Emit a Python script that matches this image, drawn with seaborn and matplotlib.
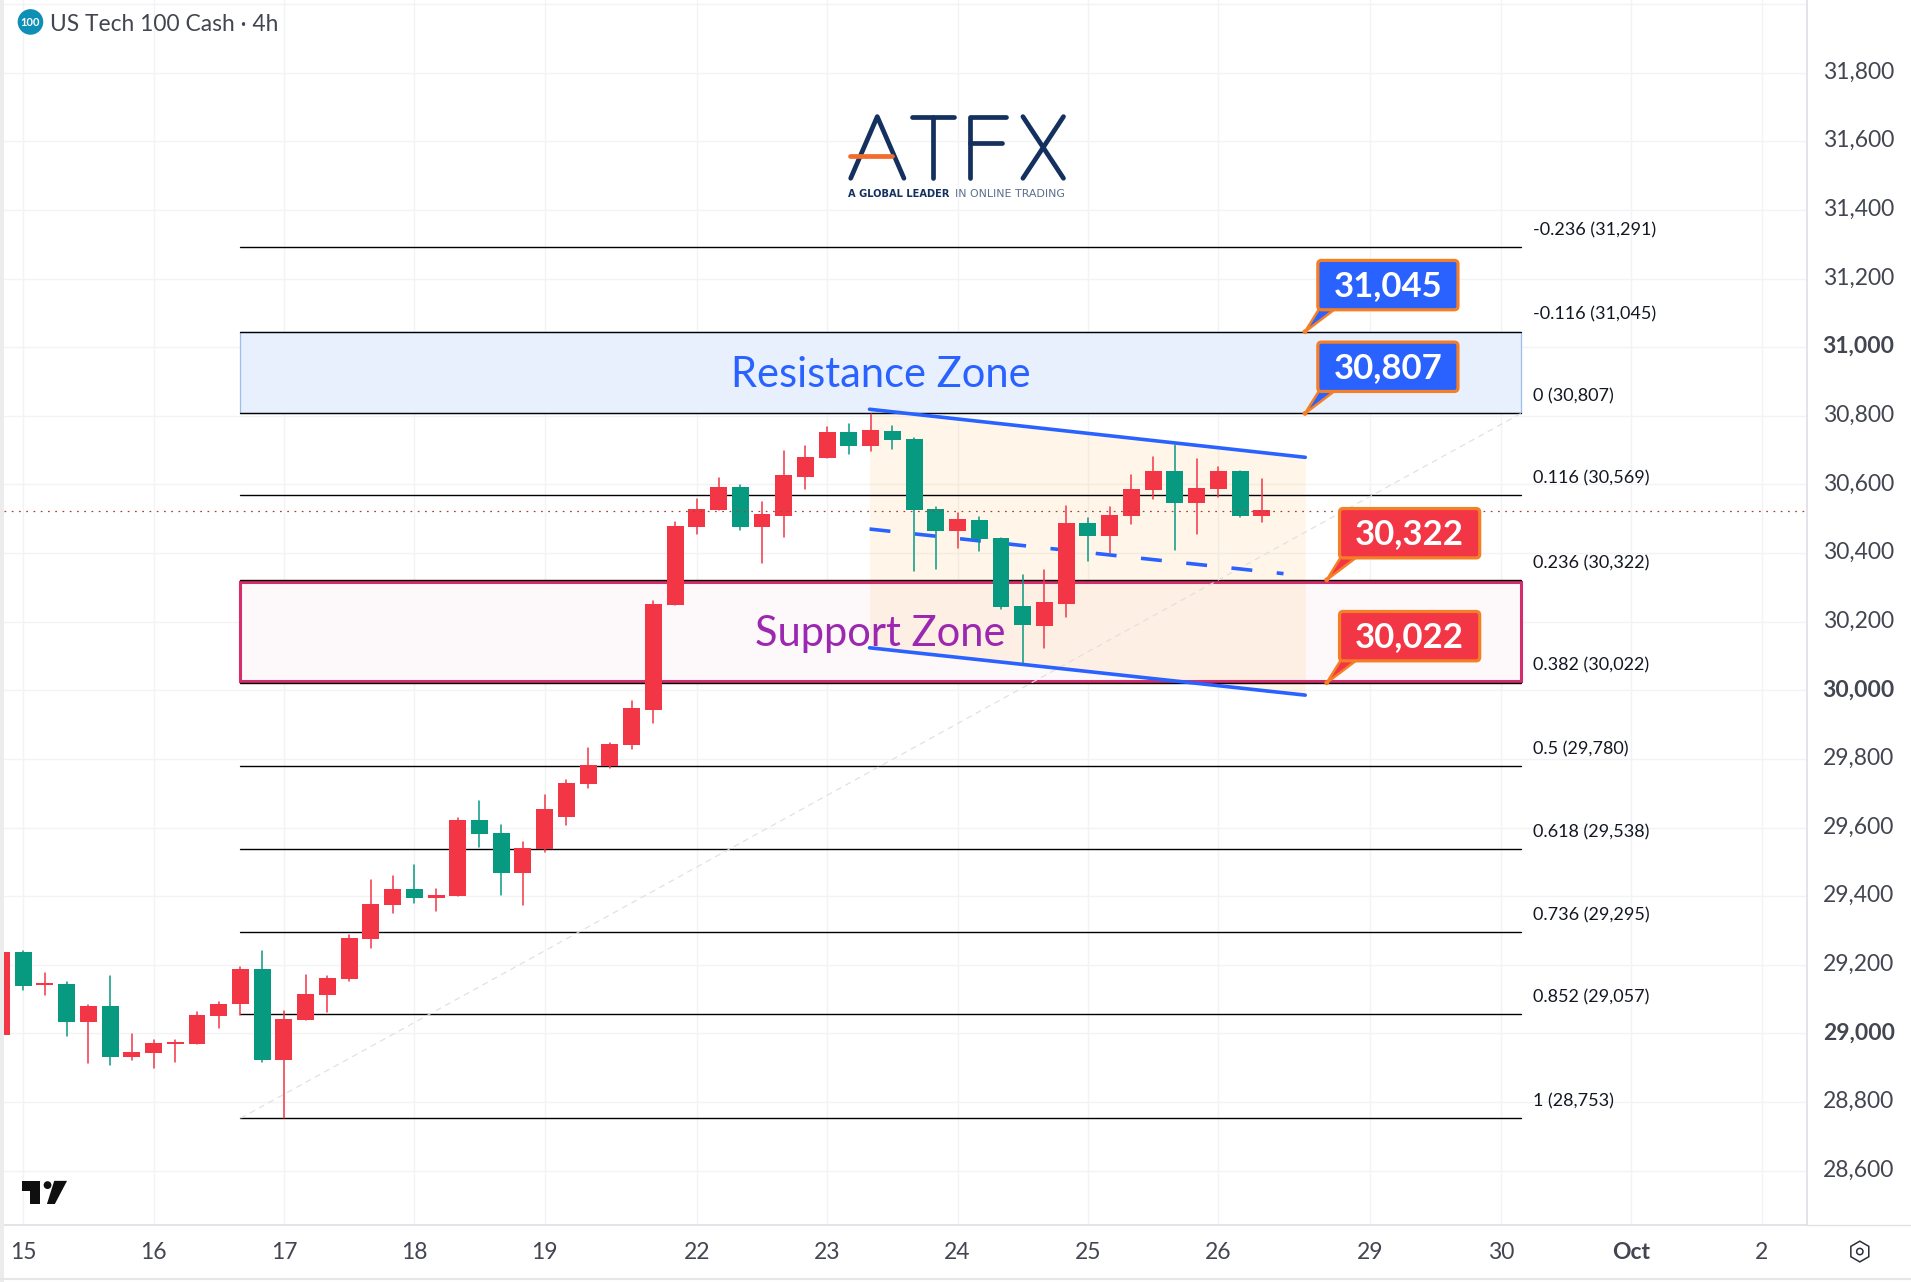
import matplotlib
matplotlib.use("Agg")
import matplotlib.pyplot as plt
from matplotlib.patches import Circle, FancyBboxPatch, Polygon, Rectangle, RegularPolygon
from matplotlib.transforms import ScaledTranslation
import pandas as pd
import seaborn as sns

# 4h candles, first one is the clipped candle at the left edge
bar_index = list(range(-1, 58))
bar_open = [28997, 29238, 29141, 29145, 29034, 29081, 28932, 28944, 28970, 28970,
            29052, 29086, 29188, 28923, 29040, 29113, 29159, 29276, 29375, 29422,
            29395, 29401, 29622, 29585, 29468, 29538, 29631, 29727, 29780, 29841,
            29943, 30249, 30477, 30526, 30593, 30476, 30508, 30622, 30677, 30753,
            30712, 30756, 30732, 30528, 30464, 30496, 30444, 30246, 30188, 30252,
            30488, 30450, 30508, 30584, 30639, 30546, 30587, 30639, 30508]
bar_high = [29238, 29241, 29177, 29151, 29084, 29168, 28999, 28981, 28981, 29062,
            29091, 29194, 29241, 29066, 29171, 29168, 29287, 29448, 29459, 29491,
            29422, 29628, 29678, 29608, 29558, 29695, 29739, 29832, 29847, 29969,
            30261, 30491, 30558, 30619, 30598, 30549, 30697, 30712, 30767, 30776,
            30804, 30770, 30735, 30534, 30517, 30505, 30444, 30336, 30351, 30537,
            30502, 30534, 30628, 30680, 30715, 30674, 30651, 30639, 30616]
bar_low = [28997, 29127, 29113, 28993, 28915, 28909, 28923, 28900, 28917, 28970,
           29017, 29054, 28918, 28753, 29040, 29063, 29154, 29250, 29352, 29381,
           29357, 29401, 29544, 29404, 29373, 29529, 29608, 29716, 29774, 29829,
           29905, 30249, 30456, 30526, 30468, 30371, 30447, 30587, 30677, 30689,
           30697, 30703, 30348, 30354, 30415, 30406, 30237, 30079, 30124, 30214,
           30377, 30400, 30485, 30558, 30409, 30456, 30564, 30505, 30491]
bar_close = [29238, 29139, 29147, 29034, 29081, 28932, 28947, 28973, 28976, 29054,
             29086, 29188, 28923, 29043, 29116, 29162, 29279, 29378, 29422, 29395,
             29404, 29622, 29582, 29468, 29541, 29655, 29730, 29783, 29844, 29949,
             30252, 30479, 30528, 30593, 30476, 30514, 30628, 30680, 30753, 30712,
             30759, 30730, 30526, 30464, 30499, 30441, 30243, 30190, 30258, 30488,
             30450, 30511, 30587, 30639, 30546, 30590, 30639, 30508, 30526]
last_price = 30524

fib_ratio = ["-0.236", "-0.116", "0", "0.116", "0.236", "0.382", "0.5", "0.618", "0.736", "0.852", "1"]
fib_price = [31291, 31045, 30807, 30569, 30322, 30022, 29780, 29538, 29295, 29057, 28753]
fib_start, fib_end = 10, 68.93

channel_x = [38.95, 59.0]
channel_top = [30819, 30679]
channel_bottom = [30124, 29986]
channel_mid_x = [38.95, 58.0]
channel_mid = [30470, 30340]

callout_price = [31045, 30807, 30322, 30022]
callout_x = [58.99, 58.99, 59.99, 59.99]
callout_color = ["#2962ff", "#2962ff", "#f23645", "#f23645"]

price_ticks = list(range(28600, 32001, 200))
price_labels = [f"{p:,}" for p in price_ticks[:-1]] + [""]
bold_prices = ["29,000", "30,000", "31,000"]
day_ticks = [0, 6, 12, 18, 24, 31, 37, 43, 49, 55, 62, 68, 74, 80]
day_labels = ["15", "16", "17", "18", "19", "22", "23", "24", "25", "26", "29", "30", "Oct", "2"]

RED, GREEN = "#f23645", "#089981"
INK = "#434651"

sns.set_theme(style="whitegrid", rc={"grid.color": "#f2f3f5", "grid.linewidth": 1.0, "axes.edgecolor": "#dfe1e6"})
plt.rcParams["font.family"] = ["Lato", "DejaVu Sans"]

fig = plt.figure(figsize=(19.11, 12.82), dpi=100, facecolor="white")
ax = fig.add_axes([3.5 / 1568, 46.5 / 1052, 1479.5 / 1568, 1005.5 / 1052])

# zones and shaded channel, the pink border sits just inside its two levels
inset = 5
ax.add_patch(Rectangle((fib_start, fib_price[2]), fib_end - fib_start, fib_price[1] - fib_price[2],
                       fc="#e8f0fd", ec="#9dbdec", lw=0.9, zorder=1))
ax.add_patch(Rectangle((fib_start, fib_price[5]), fib_end - fib_start, fib_price[4] - fib_price[5],
                       fc="#fdf8fa", ec="none", zorder=1))
ax.fill_between(channel_x, channel_bottom, channel_top, color="#ff9800", alpha=0.085, lw=0, zorder=2)
ax.add_patch(Rectangle((fib_start, fib_price[5] + inset), fib_end - fib_start,
                       fib_price[4] - fib_price[5] - 2 * inset,
                       fc="none", ec="#d42c6c", lw=2.2, zorder=2.5))

fib = pd.DataFrame({"level": fib_ratio * 2, "x": [fib_start] * 11 + [fib_end] * 11, "price": fib_price * 2})
sns.lineplot(data=fib, x="x", y="price", units="level", estimator=None, color="#000000",
             lw=1.0, ax=ax, legend=False, zorder=3)
ax.plot([fib_start, fib_end], [fib_price[-1], fib_price[2]], color="#e0e0e0", lw=0.85,
        ls=(0, (5, 4)), zorder=3)

ax.plot(channel_x, channel_top, color="#2962ff", lw=2.6, zorder=4)
ax.plot(channel_x, channel_bottom, color="#2962ff", lw=2.6, zorder=4)
ax.plot(channel_mid_x, channel_mid, color="#2962ff", lw=2.6, ls=(0, (5.8, 6.8)), zorder=4)

# candles, red is up on this chart
bars = pd.DataFrame({"i": bar_index, "open": bar_open, "high": bar_high, "low": bar_low, "close": bar_close})
bars["side"] = ["up" if c >= o else "down" for o, c in zip(bars["open"], bars["close"])]
wicks = bars.melt(id_vars=["i", "side"], value_vars=["low", "high"], value_name="price")
sns.lineplot(data=wicks, x="i", y="price", hue="side", units="i", estimator=None,
             palette={"up": RED, "down": GREEN}, lw=1.1, ax=ax, legend=False, zorder=5)
body_low = bars[["open", "close"]].min(axis=1)
body_size = (bars["close"] - bars["open"]).abs()
ax.bar(bars["i"], body_size, bottom=body_low, width=0.78, lw=0,
       color=bars["side"].map({"up": RED, "down": GREEN}), zorder=5.5)

ax.axhline(last_price, color="#a8403f", lw=0.9, ls=(0, (1.4, 4.4)), zorder=6)

for ratio, price in zip(fib_ratio, fib_price):
    ax.annotate(f"{ratio} ({price:,})", (69.5, price), xytext=(0, 12.2), textcoords="offset points",
                va="center", ha="left", fontsize=13, color="#131722", zorder=7)

ax.text(39.45, 30920, "Resistance Zone", color="#2962ff", fontsize=30, ha="center", va="center", zorder=7)
ax.text(39.45, 30165, "Support Zone", color="#9c27b0", fontsize=30, ha="center", va="center", zorder=7)

ax.set_xlim(-0.87, 82.11)
ax.set_ylim(28441, 32011.6)
ax.set_xlabel("")
ax.set_ylabel("")
ax.yaxis.tick_right()
ax.set_yticks(price_ticks, price_labels)
ax.set_xticks(day_ticks, day_labels)
ax.tick_params(axis="y", length=0, pad=11, labelsize=16.5, labelcolor=INK)
ax.tick_params(axis="x", length=0, pad=12, labelsize=16.5, labelcolor=INK)
nudge = ScaledTranslation(0, 2.5 / 100, fig.dpi_scale_trans)
for label in ax.get_yticklabels():
    label.set_transform(label.get_transform() + nudge)
    if label.get_text() in bold_prices:
        label.set_fontweight("bold")
for label in ax.get_xticklabels():
    if label.get_text() == "Oct":
        label.set_fontweight("bold")
ax.grid(True, zorder=0)
ax.set_axisbelow(True)
for side in ["top", "left"]:
    ax.spines[side].set_visible(False)
ax.spines["right"].set_visible(True)
ax.spines["bottom"].set_visible(True)

# overlay in picture units for header, logos and callouts
over = fig.add_axes([0, 0, 1, 1], zorder=10)
over.set_xlim(0, 1568)
over.set_ylim(1052, 0)
over.axis("off")
over.patch.set_visible(False)

over.add_patch(Rectangle((0, 0), 3, 1052, fc="#ececec", ec="none"))
over.plot([0, 1568], [1049.5, 1049.5], color="#e6e6e6", lw=1.5)
over.plot([1483, 1568], [1005.5, 1005.5], color="#dfe1e6", lw=1.0)

over.add_patch(Circle((25, 18), 10.5, fc="#0e8fb5", ec="none"))
over.text(25, 18.3, "100", color="white", fontsize=8, fontweight="bold", ha="center", va="center")
over.text(41, 20, "US Tech 100 Cash \u00b7 4h", color=INK, fontsize=16.4, ha="left", va="center")

# ATFX mark
navy = "#13305e"
logo_strokes = [[(698, 146.3), (719.8, 95.7), (741.7, 146.3)],
                [(748, 95.7), (782.7, 95.7)], [(765.3, 95.7), (765.3, 146.3)],
                [(825.4, 95.7), (795.9, 95.7), (795.9, 146.3)], [(795.9, 117.6), (822.4, 117.6)],
                [(839.3, 95.7), (872.6, 146.3)], [(872.6, 95.7), (839.3, 146.3)]]
for stroke in logo_strokes:
    over.plot(*zip(*stroke), color=navy, lw=3.4, solid_capstyle="round", solid_joinstyle="round")
over.plot([697.4, 731.6], [128.3, 128.3], color="#f26c2c", lw=3.4, solid_capstyle="round")
over.text(696, 159, "A GLOBAL LEADER", color=navy, fontsize=7.1, fontweight="bold", family="DejaVu Sans",
          ha="left", va="center")
over.text(783.6, 159, "IN ONLINE TRADING", color="#5b6f8c", fontsize=7.9, family="DejaVu Sans",
          ha="left", va="center")

# TradingView mark
over.add_patch(Polygon([(18, 969), (33, 969), (33, 988), (25, 988), (25, 977), (18, 977)], fc="#0f0f0f", ec="none"))
over.add_patch(Circle((39, 972.5), 3.2, fc="#0f0f0f", ec="none"))
over.add_patch(Polygon([(44.5, 969), (55, 969), (45, 988), (38.5, 988)], fc="#0f0f0f", ec="none"))

# settings icon
over.add_patch(RegularPolygon((1526, 1027), 6, radius=8.5, fc="none", ec="#2a2e39", lw=1.1))
over.add_patch(Circle((1526, 1027), 2.6, fc="none", ec="#2a2e39", lw=1.1))

# callouts hang off their price level
for price, x, color in zip(callout_price, callout_x, callout_color):
    tip = over.transData.inverted().transform(ax.transData.transform((x, price)))
    left, top = tip[0] + 10.5, tip[1] - 58.5
    over.add_patch(Polygon([tip, (left + 1, top + 40), (left + 14, top + 40)], fc=color, ec="#f57f26", lw=1.8))
    over.add_patch(FancyBboxPatch((left, top), 115, 40.5, boxstyle="round,pad=0,rounding_size=3",
                                  fc=color, ec="#f57f26", lw=2.3))
    over.add_patch(Circle(tip, 2, fc="#f57f26", ec="none"))
    over.text(left + 57.5, top + 21, f"{price:,}", color="white", fontsize=25, fontweight="bold",
              ha="center", va="center")

fig.savefig("out.png", dpi=100)
